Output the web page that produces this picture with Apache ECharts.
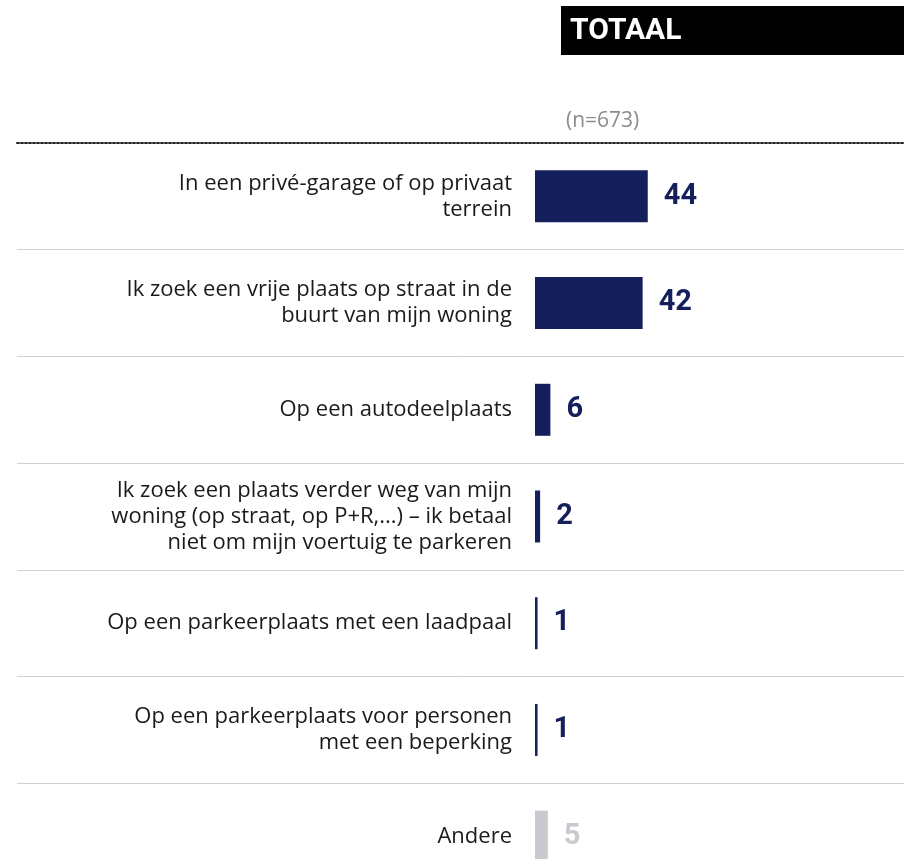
<!DOCTYPE html>
<html><head><meta charset="utf-8">
<script src="https://cdn.jsdelivr.net/npm/echarts@6/dist/echarts.min.js"></script>
<style>html,body{margin:0;padding:0;background:#fff;overflow:hidden}#c{width:904px;height:890px}</style>
</head><body><div id="c"></div>
<script>
const categories = [
  'In een privé-garage of op privaat\nterrein',
  'Ik zoek een vrije plaats op straat in de\nbuurt van mijn woning',
  'Op een autodeelplaats',
  'Ik zoek een plaats verder weg van mijn\nwoning (op straat, op P+R,...) – ik betaal\nniet om mijn voertuig te parkeren',
  'Op een parkeerplaats met een laadpaal',
  'Op een parkeerplaats voor personen\nmet een beperking',
  'Andere'
];
const values = [44, 42, 6, 2, 1, 1, 5];
const otherIndex = 6;
const titleText = 'TOTAAL';
const subText = '(n=673)';

const NAVY = '#151f5b', GREY = '#c8cacf';
const chart = echarts.init(document.getElementById('c'), null, {renderer: 'canvas'});
const FONT = 'Open Sans';
chart.setOption({
  animation: false,
  title: [
    {text: titleText, left: 561, top: 6, backgroundColor: '#000', padding: [8, 0, 7, 9],
     textStyle: {color: '#fff', fontFamily: 'Roboto', fontWeight: 'bold', fontSize: 30, lineHeight: 34, width: 334}},
    {text: subText, left: 566, top: 111, padding: 0,
     textStyle: {color: '#8c8c8c', fontFamily: FONT, fontWeight: 'normal', fontSize: 21}}
  ],
  grid: [
    {left: 17, right: 0, top: 143, bottom: 0},
    {left: 535, right: 0, top: 143, bottom: 0}
  ],
  xAxis: [
    {gridIndex: 0, type: 'value', position: 'top', min: 0, max: 1,
     axisLine: {show: true, onZero: false, lineStyle: {color: '#222', width: 2, type: 'dotted'}},
     axisTick: {show: false}, axisLabel: {show: false}, splitLine: {show: false}},
    {gridIndex: 1, type: 'value', min: 0, max: 144, show: false}
  ],
  yAxis: [
    {gridIndex: 0, type: 'category', inverse: true, data: categories,
     axisLine: {show: false}, axisTick: {show: false}, axisLabel: {show: false},
     splitLine: {show: true, interval: (i) => i > 0, lineStyle: {color: '#d0d0d0', width: 1}}},
    {gridIndex: 1, type: 'category', inverse: true, data: categories,
     axisLine: {show: false}, axisTick: {show: false},
     axisLabel: {margin: 23, color: '#1a1a1a', fontFamily: FONT, fontSize: 22, lineHeight: 26, align: 'right'}}
  ],
  series: [{
    type: 'bar', xAxisIndex: 1, yAxisIndex: 1, barWidth: 52,
    data: values.map((v, i) => ({
      value: v,
      itemStyle: {color: i === otherIndex ? GREY : NAVY},
      label: {color: i === otherIndex ? GREY : NAVY}
    })),
    label: {show: true, position: 'right', distance: 16, fontFamily: 'Roboto', fontWeight: 'bold', fontSize: 29}
  }]
});
</script></body></html>
